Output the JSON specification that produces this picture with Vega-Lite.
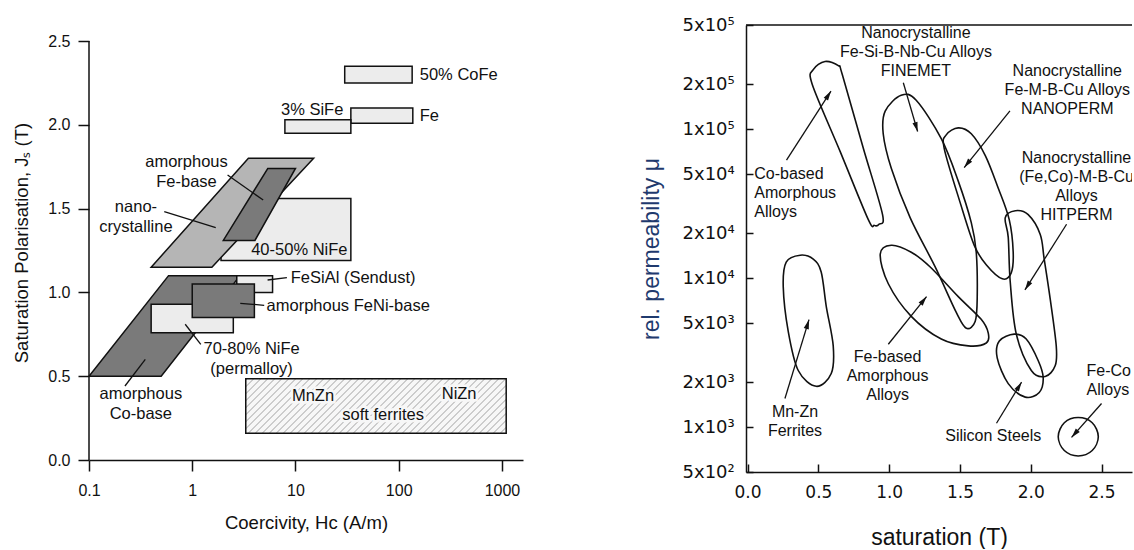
{
  "$schema": "https://vega.github.io/schema/vega-lite/v6.json",
  "background": "white",
  "padding": {"left": 12, "top": 16, "right": 0, "bottom": 0},
  "autosize": {"type": "pad"},
  "spacing": 117,
  "config": {
    "font": "Liberation Sans",
    "view": {"stroke": null},
    "axis": {"grid": false, "domainColor": "#111", "tickColor": "#111", "labelColor": "#111", "titleColor": "#111", "labelFont": "Liberation Sans", "titleFont": "Liberation Sans", "titleFontWeight": "normal", "labelFlush": false, "labelOverlap": false, "domainWidth": 1.5, "tickWidth": 1.5}
  },
  "datasets": {
    "yline": [{"x": 0.1, "y": 0, "y2": 2.5}],
    "rects": [
      {"n": "NiFe4050", "grp": "A", "x1": 1.9, "x2": 34.4, "y1": 1.19, "y2": 1.56, "tone": "light"},
      {"n": "CoFe", "grp": "A", "x1": 30, "x2": 135, "y1": 2.25, "y2": 2.35, "tone": "light"},
      {"n": "Fe", "grp": "A", "x1": 34.4, "x2": 137, "y1": 2.01, "y2": 2.10, "tone": "light"},
      {"n": "SiFe", "grp": "A", "x1": 7.9, "x2": 34.4, "y1": 1.95, "y2": 2.03, "tone": "light"},
      {"n": "ferrite", "grp": "H", "x1": 3.3, "x2": 1100, "y1": 0.16, "y2": 0.485, "tone": "hatch"},
      {"n": "FeSiAl", "grp": "B", "x1": 2.7, "x2": 6.0, "y1": 1.0, "y2": 1.1, "tone": "light"},
      {"n": "NiFe7080", "grp": "B", "x1": 0.4, "x2": 2.5, "y1": 0.76, "y2": 0.93, "tone": "light"},
      {"n": "FeNiAm", "grp": "B", "x1": 1.0, "x2": 4.0, "y1": 0.85, "y2": 1.05, "tone": "dark"}
    ],
    "para": [
      {"n": "nano", "y": 1.15, "xl": 0.4, "xr": 1.55, "tone": "medium"},
      {"n": "nano", "y": 1.8, "xl": 3.5, "xr": 15, "tone": "medium"},
      {"n": "feam", "y": 1.31, "xl": 2.0, "xr": 4.05, "tone": "dark"},
      {"n": "feam", "y": 1.74, "xl": 5.4, "xr": 10, "tone": "dark"},
      {"n": "coam", "y": 0.5, "xl": 0.1, "xr": 0.5, "tone": "dark"},
      {"n": "coam", "y": 1.1, "xl": 0.59, "xr": 2.9, "tone": "dark"}
    ],
    "lead": [
      {"x": 2.2, "y": 1.70, "x2": 4.87, "y2": 1.551},
      {"x": 0.536, "y": 1.482, "x2": 1.69, "y2": 1.386},
      {"x": 5.37, "y": 1.074, "x2": 8.26, "y2": 1.088},
      {"x": 2.92, "y": 0.935, "x2": 4.98, "y2": 0.923},
      {"x": 0.855, "y": 0.810, "x2": 1.21, "y2": 0.690},
      {"x": 0.223, "y": 0.4415, "x2": 0.351, "y2": 0.601}
    ],
    "llab": [
      {"t": "3% SiFe", "x": 14.5, "y": 2.09, "al": "c"},
      {"t": "amorphous\nFe-base", "x": 0.88, "y": 1.78, "al": "c"},
      {"t": "nano-\ncrystalline", "x": 0.285, "y": 1.511, "al": "c"},
      {"t": "40-50% NiFe", "x": 10.9, "y": 1.251, "al": "c"},
      {"t": "70-80% NiFe\n(permalloy)", "x": 3.76, "y": 0.660, "al": "c"},
      {"t": "amorphous\nCo-base", "x": 0.318, "y": 0.392, "al": "c"},
      {"t": "MnZn", "x": 14.8, "y": 0.382, "al": "f"},
      {"t": "NiZn", "x": 385, "y": 0.392, "al": "f"},
      {"t": "soft ferrites", "x": 70.6, "y": 0.267, "al": "f"},
      {"t": "50% CoFe", "x": 160, "y": 2.30, "al": "l"},
      {"t": "Fe", "x": 160, "y": 2.05, "al": "l"},
      {"t": "FeSiAl (Sendust)", "x": 9.0, "y": 1.084, "al": "l"},
      {"t": "amorphous FeNi-base", "x": 5.25, "y": 0.919, "al": "l"}
    ],
    "frame": [{"x": -0.011, "x2": 2.715, "y": 500000}],
    "loops": [
      {"s": "co", "i": 1, "x": 0.547, "y": 284600}, {"s": "co", "i": 2, "x": 0.641, "y": 266700}, {"s": "co", "i": 3, "x": 0.669, "y": 232300}, {"s": "co", "i": 4, "x": 0.817, "y": 74800}, {"s": "co", "i": 5, "x": 0.953, "y": 26800}, {"s": "co", "i": 6, "x": 0.928, "y": 23000}, {"s": "co", "i": 7, "x": 0.895, "y": 22600}, {"s": "co", "i": 8, "x": 0.852, "y": 24800}, {"s": "co", "i": 9, "x": 0.655, "y": 70400}, {"s": "co", "i": 10, "x": 0.457, "y": 199500}, {"s": "co", "i": 11, "x": 0.464, "y": 250600},
      {"s": "fm", "i": 1, "x": 1.085, "y": 168700}, {"s": "fm", "i": 2, "x": 1.191, "y": 156300}, {"s": "fm", "i": 3, "x": 1.368, "y": 86300}, {"s": "fm", "i": 4, "x": 1.488, "y": 44800}, {"s": "fm", "i": 5, "x": 1.580, "y": 23600}, {"s": "fm", "i": 6, "x": 1.615, "y": 14930}, {"s": "fm", "i": 7, "x": 1.622, "y": 7520}, {"s": "fm", "i": 8, "x": 1.608, "y": 5140}, {"s": "fm", "i": 9, "x": 1.545, "y": 4610}, {"s": "fm", "i": 10, "x": 1.474, "y": 5890}, {"s": "fm", "i": 11, "x": 1.325, "y": 11890}, {"s": "fm", "i": 12, "x": 1.148, "y": 25470}, {"s": "fm", "i": 13, "x": 1.015, "y": 54600}, {"s": "fm", "i": 14, "x": 0.958, "y": 93100}, {"s": "fm", "i": 15, "x": 0.972, "y": 132100},
      {"s": "np", "i": 1, "x": 1.488, "y": 102000}, {"s": "np", "i": 2, "x": 1.580, "y": 93100}, {"s": "np", "i": 3, "x": 1.679, "y": 66500}, {"s": "np", "i": 4, "x": 1.770, "y": 40300}, {"s": "np", "i": 5, "x": 1.848, "y": 24700}, {"s": "np", "i": 6, "x": 1.876, "y": 14930}, {"s": "np", "i": 7, "x": 1.862, "y": 10840}, {"s": "np", "i": 8, "x": 1.799, "y": 9890}, {"s": "np", "i": 9, "x": 1.687, "y": 12240}, {"s": "np", "i": 10, "x": 1.601, "y": 16600}, {"s": "np", "i": 11, "x": 1.502, "y": 32000}, {"s": "np", "i": 12, "x": 1.389, "y": 74100}, {"s": "np", "i": 13, "x": 1.403, "y": 91600},
      {"s": "hp", "i": 1, "x": 1.891, "y": 28340}, {"s": "hp", "i": 2, "x": 1.982, "y": 26660}, {"s": "hp", "i": 3, "x": 2.067, "y": 19650}, {"s": "hp", "i": 4, "x": 2.095, "y": 13420}, {"s": "hp", "i": 5, "x": 2.138, "y": 7180}, {"s": "hp", "i": 6, "x": 2.180, "y": 3510}, {"s": "hp", "i": 7, "x": 2.173, "y": 2590}, {"s": "hp", "i": 8, "x": 2.102, "y": 2190}, {"s": "hp", "i": 9, "x": 2.004, "y": 2400}, {"s": "hp", "i": 10, "x": 1.898, "y": 4210}, {"s": "hp", "i": 11, "x": 1.855, "y": 9450}, {"s": "hp", "i": 12, "x": 1.841, "y": 18780}, {"s": "hp", "i": 13, "x": 1.820, "y": 25470},
      {"s": "fb", "i": 1, "x": 0.937, "y": 14490}, {"s": "fb", "i": 2, "x": 1.015, "y": 16630}, {"s": "fb", "i": 3, "x": 1.156, "y": 14930}, {"s": "fb", "i": 4, "x": 1.290, "y": 11880}, {"s": "fb", "i": 5, "x": 1.488, "y": 7520}, {"s": "fb", "i": 6, "x": 1.650, "y": 5290}, {"s": "fb", "i": 7, "x": 1.700, "y": 4280}, {"s": "fb", "i": 8, "x": 1.686, "y": 3670}, {"s": "fb", "i": 9, "x": 1.559, "y": 3510}, {"s": "fb", "i": 10, "x": 1.368, "y": 3900}, {"s": "fb", "i": 11, "x": 1.156, "y": 5540}, {"s": "fb", "i": 12, "x": 0.994, "y": 9170},
      {"s": "si", "i": 1, "x": 1.883, "y": 4210}, {"s": "si", "i": 2, "x": 1.968, "y": 3900}, {"s": "si", "i": 3, "x": 2.053, "y": 2790}, {"s": "si", "i": 4, "x": 2.088, "y": 2150}, {"s": "si", "i": 5, "x": 2.060, "y": 1710}, {"s": "si", "i": 6, "x": 1.961, "y": 1590}, {"s": "si", "i": 7, "x": 1.841, "y": 1960}, {"s": "si", "i": 8, "x": 1.763, "y": 2920}, {"s": "si", "i": 9, "x": 1.778, "y": 3790},
      {"s": "fc", "i": 1, "x": 2.335, "y": 1160}, {"s": "fc", "i": 2, "x": 2.434, "y": 1070}, {"s": "fc", "i": 3, "x": 2.477, "y": 863}, {"s": "fc", "i": 4, "x": 2.434, "y": 697}, {"s": "fc", "i": 5, "x": 2.335, "y": 641}, {"s": "fc", "i": 6, "x": 2.237, "y": 697}, {"s": "fc", "i": 7, "x": 2.194, "y": 863}, {"s": "fc", "i": 8, "x": 2.237, "y": 1070},
      {"s": "mz", "i": 1, "x": 0.372, "y": 14260}, {"s": "mz", "i": 2, "x": 0.464, "y": 13420}, {"s": "mz", "i": 3, "x": 0.520, "y": 11010}, {"s": "mz", "i": 4, "x": 0.556, "y": 6450}, {"s": "mz", "i": 5, "x": 0.605, "y": 3510}, {"s": "mz", "i": 6, "x": 0.591, "y": 2290}, {"s": "mz", "i": 7, "x": 0.485, "y": 1880}, {"s": "mz", "i": 8, "x": 0.358, "y": 2400}, {"s": "mz", "i": 9, "x": 0.287, "y": 4410}, {"s": "mz", "i": 10, "x": 0.252, "y": 8750}, {"s": "mz", "i": 11, "x": 0.273, "y": 12820}
    ],
    "arrows": [
      {"tx": 0.275, "ty": 61950, "hx": 0.589, "hy": 180200, "dir": 32.4},
      {"tx": 1.100, "ty": 204800, "hx": 1.201, "hy": 96400, "dir": 163.9},
      {"tx": 1.853, "ty": 132800, "hx": 1.530, "hy": 55200, "dir": 218.4},
      {"tx": 2.253, "ty": 23000, "hx": 1.959, "hy": 8330, "dir": 212},
      {"tx": 0.994, "ty": 3600, "hx": 1.264, "hy": 7520, "dir": 38.4},
      {"tx": 0.264, "ty": 1556, "hx": 0.434, "hy": 5270, "dir": 16.7},
      {"tx": 1.758, "ty": 1062, "hx": 1.935, "hy": 2005, "dir": 31},
      {"tx": 2.500, "ty": 1442, "hx": 2.288, "hy": 853, "dir": 221.1}
    ],
    "rlab": [
      {"t": "Nanocrystalline\nFe-Si-B-Nb-Cu Alloys\nFINEMET", "x": 1.189, "y": 438600, "al": "c"},
      {"t": "Nanocrystalline\nFe-M-B-Cu Alloys\nNANOPERM", "x": 2.258, "y": 247000, "al": "c"},
      {"t": "Nanocrystalline\n(Fe,Co)-M-B-Cu\nAlloys\nHITPERM", "x": 2.323, "y": 63600, "al": "c"},
      {"t": "Fe-based\nAmorphous\nAlloys", "x": 0.989, "y": 2935, "al": "c"},
      {"t": "Mn-Zn\nFerrites", "x": 0.335, "y": 1268, "al": "c"},
      {"t": "Silicon Steels", "x": 1.735, "y": 866, "al": "c"},
      {"t": "Co-based\nAmorphous\nAlloys", "x": 0.047, "y": 50000, "al": "l"},
      {"t": "Fe-Co\nAlloys", "x": 2.394, "y": 2395, "al": "l"}
    ]
  },
  "hconcat": [
    {
      "width": 434,
      "height": 435,
      "layer": [
        {
          "data": {"name": "yline"},
          "mark": {"type": "rule", "color": "#111", "strokeWidth": 1.5},
          "encoding": {
            "x": {"field": "x", "type": "quantitative", "scale": {"type": "log", "domain": [0.1, 1600], "nice": false},
                  "axis": {"values": [0.1, 1, 10, 100, 1000], "format": "~g", "tickSize": 11, "labelPadding": 11, "labelFontSize": 16, "title": "Coercivity, Hc (A/m)", "titleFontSize": 18.5, "titlePadding": 15}},
            "y": {"field": "y", "type": "quantitative", "scale": {"domain": [0, 2.5955], "nice": false, "zero": false},
                  "axis": {"values": [0, 0.5, 1, 1.5, 2, 2.5], "format": ".1f", "domain": false, "tickSize": 11, "labelPadding": 8, "labelFontSize": 16, "title": "Saturation Polarisation, J\u209b (T)", "titleFontSize": 18.5, "titlePadding": 16}},
            "y2": {"field": "y2"}
          }
        },
        {
          "data": {"name": "rects"},
          "transform": [{"filter": "datum.grp == 'A'"}],
          "mark": {"type": "rect", "stroke": "#111", "strokeWidth": 1.5},
          "encoding": {
            "x": {"field": "x1", "type": "quantitative"}, "x2": {"field": "x2"},
            "y": {"field": "y1", "type": "quantitative"}, "y2": {"field": "y2"},
            "fill": {"field": "tone", "type": "nominal", "scale": {"domain": ["light", "medium", "dark"], "range": ["#ececec", "#b5b5b5", "#7a7a7a"]}, "legend": null}
          }
        },
        {
          "data": {"name": "rects"},
          "transform": [{"filter": "datum.grp == 'H'"}],
          "mark": {"type": "rect", "stroke": "#111", "strokeWidth": 1.5,
            "fill": {"gradient": "linear", "x1": 0, "y1": 0, "x2": 1.1586, "y2": 0.2425, "stops": [
              {"offset": 0, "color": "#cccccc"}, {"offset": 0.0075, "color": "#cccccc"}, {"offset": 0.0075, "color": "#f7f7f7"}, {"offset": 0.0222, "color": "#f7f7f7"},
              {"offset": 0.0222, "color": "#cccccc"}, {"offset": 0.0297, "color": "#cccccc"}, {"offset": 0.0297, "color": "#f7f7f7"}, {"offset": 0.0444, "color": "#f7f7f7"},
              {"offset": 0.0444, "color": "#cccccc"}, {"offset": 0.0519, "color": "#cccccc"}, {"offset": 0.0519, "color": "#f7f7f7"}, {"offset": 0.0667, "color": "#f7f7f7"},
              {"offset": 0.0667, "color": "#cccccc"}, {"offset": 0.0742, "color": "#cccccc"}, {"offset": 0.0742, "color": "#f7f7f7"}, {"offset": 0.0889, "color": "#f7f7f7"},
              {"offset": 0.0889, "color": "#cccccc"}, {"offset": 0.0964, "color": "#cccccc"}, {"offset": 0.0964, "color": "#f7f7f7"}, {"offset": 0.1111, "color": "#f7f7f7"},
              {"offset": 0.1111, "color": "#cccccc"}, {"offset": 0.1186, "color": "#cccccc"}, {"offset": 0.1186, "color": "#f7f7f7"}, {"offset": 0.1333, "color": "#f7f7f7"},
              {"offset": 0.1333, "color": "#cccccc"}, {"offset": 0.1408, "color": "#cccccc"}, {"offset": 0.1408, "color": "#f7f7f7"}, {"offset": 0.1556, "color": "#f7f7f7"},
              {"offset": 0.1556, "color": "#cccccc"}, {"offset": 0.1631, "color": "#cccccc"}, {"offset": 0.1631, "color": "#f7f7f7"}, {"offset": 0.1778, "color": "#f7f7f7"},
              {"offset": 0.1778, "color": "#cccccc"}, {"offset": 0.1853, "color": "#cccccc"}, {"offset": 0.1853, "color": "#f7f7f7"}, {"offset": 0.2, "color": "#f7f7f7"},
              {"offset": 0.2, "color": "#cccccc"}, {"offset": 0.2075, "color": "#cccccc"}, {"offset": 0.2075, "color": "#f7f7f7"}, {"offset": 0.2222, "color": "#f7f7f7"},
              {"offset": 0.2222, "color": "#cccccc"}, {"offset": 0.2297, "color": "#cccccc"}, {"offset": 0.2297, "color": "#f7f7f7"}, {"offset": 0.2444, "color": "#f7f7f7"},
              {"offset": 0.2444, "color": "#cccccc"}, {"offset": 0.2519, "color": "#cccccc"}, {"offset": 0.2519, "color": "#f7f7f7"}, {"offset": 0.2667, "color": "#f7f7f7"},
              {"offset": 0.2667, "color": "#cccccc"}, {"offset": 0.2742, "color": "#cccccc"}, {"offset": 0.2742, "color": "#f7f7f7"}, {"offset": 0.2889, "color": "#f7f7f7"},
              {"offset": 0.2889, "color": "#cccccc"}, {"offset": 0.2964, "color": "#cccccc"}, {"offset": 0.2964, "color": "#f7f7f7"}, {"offset": 0.3111, "color": "#f7f7f7"},
              {"offset": 0.3111, "color": "#cccccc"}, {"offset": 0.3186, "color": "#cccccc"}, {"offset": 0.3186, "color": "#f7f7f7"}, {"offset": 0.3333, "color": "#f7f7f7"},
              {"offset": 0.3333, "color": "#cccccc"}, {"offset": 0.3408, "color": "#cccccc"}, {"offset": 0.3408, "color": "#f7f7f7"}, {"offset": 0.3556, "color": "#f7f7f7"},
              {"offset": 0.3556, "color": "#cccccc"}, {"offset": 0.3631, "color": "#cccccc"}, {"offset": 0.3631, "color": "#f7f7f7"}, {"offset": 0.3778, "color": "#f7f7f7"},
              {"offset": 0.3778, "color": "#cccccc"}, {"offset": 0.3853, "color": "#cccccc"}, {"offset": 0.3853, "color": "#f7f7f7"}, {"offset": 0.4, "color": "#f7f7f7"},
              {"offset": 0.4, "color": "#cccccc"}, {"offset": 0.4075, "color": "#cccccc"}, {"offset": 0.4075, "color": "#f7f7f7"}, {"offset": 0.4222, "color": "#f7f7f7"},
              {"offset": 0.4222, "color": "#cccccc"}, {"offset": 0.4297, "color": "#cccccc"}, {"offset": 0.4297, "color": "#f7f7f7"}, {"offset": 0.4444, "color": "#f7f7f7"},
              {"offset": 0.4444, "color": "#cccccc"}, {"offset": 0.4519, "color": "#cccccc"}, {"offset": 0.4519, "color": "#f7f7f7"}, {"offset": 0.4667, "color": "#f7f7f7"},
              {"offset": 0.4667, "color": "#cccccc"}, {"offset": 0.4742, "color": "#cccccc"}, {"offset": 0.4742, "color": "#f7f7f7"}, {"offset": 0.4889, "color": "#f7f7f7"},
              {"offset": 0.4889, "color": "#cccccc"}, {"offset": 0.4964, "color": "#cccccc"}, {"offset": 0.4964, "color": "#f7f7f7"}, {"offset": 0.5111, "color": "#f7f7f7"},
              {"offset": 0.5111, "color": "#cccccc"}, {"offset": 0.5186, "color": "#cccccc"}, {"offset": 0.5186, "color": "#f7f7f7"}, {"offset": 0.5333, "color": "#f7f7f7"},
              {"offset": 0.5333, "color": "#cccccc"}, {"offset": 0.5408, "color": "#cccccc"}, {"offset": 0.5408, "color": "#f7f7f7"}, {"offset": 0.5556, "color": "#f7f7f7"},
              {"offset": 0.5556, "color": "#cccccc"}, {"offset": 0.5631, "color": "#cccccc"}, {"offset": 0.5631, "color": "#f7f7f7"}, {"offset": 0.5778, "color": "#f7f7f7"},
              {"offset": 0.5778, "color": "#cccccc"}, {"offset": 0.5853, "color": "#cccccc"}, {"offset": 0.5853, "color": "#f7f7f7"}, {"offset": 0.6, "color": "#f7f7f7"},
              {"offset": 0.6, "color": "#cccccc"}, {"offset": 0.6075, "color": "#cccccc"}, {"offset": 0.6075, "color": "#f7f7f7"}, {"offset": 0.6222, "color": "#f7f7f7"},
              {"offset": 0.6222, "color": "#cccccc"}, {"offset": 0.6297, "color": "#cccccc"}, {"offset": 0.6297, "color": "#f7f7f7"}, {"offset": 0.6444, "color": "#f7f7f7"},
              {"offset": 0.6444, "color": "#cccccc"}, {"offset": 0.6519, "color": "#cccccc"}, {"offset": 0.6519, "color": "#f7f7f7"}, {"offset": 0.6667, "color": "#f7f7f7"},
              {"offset": 0.6667, "color": "#cccccc"}, {"offset": 0.6742, "color": "#cccccc"}, {"offset": 0.6742, "color": "#f7f7f7"}, {"offset": 0.6889, "color": "#f7f7f7"},
              {"offset": 0.6889, "color": "#cccccc"}, {"offset": 0.6964, "color": "#cccccc"}, {"offset": 0.6964, "color": "#f7f7f7"}, {"offset": 0.7111, "color": "#f7f7f7"},
              {"offset": 0.7111, "color": "#cccccc"}, {"offset": 0.7186, "color": "#cccccc"}, {"offset": 0.7186, "color": "#f7f7f7"}, {"offset": 0.7333, "color": "#f7f7f7"},
              {"offset": 0.7333, "color": "#cccccc"}, {"offset": 0.7408, "color": "#cccccc"}, {"offset": 0.7408, "color": "#f7f7f7"}, {"offset": 0.7556, "color": "#f7f7f7"},
              {"offset": 0.7556, "color": "#cccccc"}, {"offset": 0.7631, "color": "#cccccc"}, {"offset": 0.7631, "color": "#f7f7f7"}, {"offset": 0.7778, "color": "#f7f7f7"},
              {"offset": 0.7778, "color": "#cccccc"}, {"offset": 0.7853, "color": "#cccccc"}, {"offset": 0.7853, "color": "#f7f7f7"}, {"offset": 0.8, "color": "#f7f7f7"},
              {"offset": 0.8, "color": "#cccccc"}, {"offset": 0.8075, "color": "#cccccc"}, {"offset": 0.8075, "color": "#f7f7f7"}, {"offset": 0.8222, "color": "#f7f7f7"},
              {"offset": 0.8222, "color": "#cccccc"}, {"offset": 0.8297, "color": "#cccccc"}, {"offset": 0.8297, "color": "#f7f7f7"}, {"offset": 0.8444, "color": "#f7f7f7"},
              {"offset": 0.8444, "color": "#cccccc"}, {"offset": 0.8519, "color": "#cccccc"}, {"offset": 0.8519, "color": "#f7f7f7"}, {"offset": 0.8667, "color": "#f7f7f7"},
              {"offset": 0.8667, "color": "#cccccc"}, {"offset": 0.8742, "color": "#cccccc"}, {"offset": 0.8742, "color": "#f7f7f7"}, {"offset": 0.8889, "color": "#f7f7f7"},
              {"offset": 0.8889, "color": "#cccccc"}, {"offset": 0.8964, "color": "#cccccc"}, {"offset": 0.8964, "color": "#f7f7f7"}, {"offset": 0.9111, "color": "#f7f7f7"},
              {"offset": 0.9111, "color": "#cccccc"}, {"offset": 0.9186, "color": "#cccccc"}, {"offset": 0.9186, "color": "#f7f7f7"}, {"offset": 0.9333, "color": "#f7f7f7"},
              {"offset": 0.9333, "color": "#cccccc"}, {"offset": 0.9408, "color": "#cccccc"}, {"offset": 0.9408, "color": "#f7f7f7"}, {"offset": 0.9556, "color": "#f7f7f7"},
              {"offset": 0.9556, "color": "#cccccc"}, {"offset": 0.9631, "color": "#cccccc"}, {"offset": 0.9631, "color": "#f7f7f7"}, {"offset": 0.9778, "color": "#f7f7f7"},
              {"offset": 0.9778, "color": "#cccccc"}, {"offset": 0.9853, "color": "#cccccc"}, {"offset": 0.9853, "color": "#f7f7f7"}, {"offset": 1, "color": "#f7f7f7"}
            ]}},
          "encoding": {
            "x": {"field": "x1", "type": "quantitative"}, "x2": {"field": "x2"},
            "y": {"field": "y1", "type": "quantitative"}, "y2": {"field": "y2"}
          }
        },
        {
          "data": {"name": "para"},
          "transform": [{"filter": "datum.n == 'nano'"}],
          "mark": {"type": "area", "orient": "horizontal", "stroke": "#111", "strokeWidth": 1.5},
          "encoding": {
            "y": {"field": "y", "type": "quantitative"},
            "x": {"field": "xl", "type": "quantitative"}, "x2": {"field": "xr"},
            "fill": {"field": "tone", "type": "nominal", "legend": null}
          }
        },
        {
          "data": {"name": "para"},
          "transform": [{"filter": "datum.n == 'feam'"}],
          "mark": {"type": "area", "orient": "horizontal", "stroke": "#111", "strokeWidth": 1.5},
          "encoding": {
            "y": {"field": "y", "type": "quantitative"},
            "x": {"field": "xl", "type": "quantitative"}, "x2": {"field": "xr"},
            "fill": {"field": "tone", "type": "nominal", "legend": null}
          }
        },
        {
          "data": {"name": "para"},
          "transform": [{"filter": "datum.n == 'coam'"}],
          "mark": {"type": "area", "orient": "horizontal", "stroke": "#111", "strokeWidth": 1.5},
          "encoding": {
            "y": {"field": "y", "type": "quantitative"},
            "x": {"field": "xl", "type": "quantitative"}, "x2": {"field": "xr"},
            "fill": {"field": "tone", "type": "nominal", "legend": null}
          }
        },
        {
          "data": {"name": "rects"},
          "transform": [{"filter": "datum.grp == 'B'"}],
          "mark": {"type": "rect", "stroke": "#111", "strokeWidth": 1.5},
          "encoding": {
            "x": {"field": "x1", "type": "quantitative"}, "x2": {"field": "x2"},
            "y": {"field": "y1", "type": "quantitative"}, "y2": {"field": "y2"},
            "fill": {"field": "tone", "type": "nominal", "legend": null}
          }
        },
        {
          "data": {"name": "lead"},
          "mark": {"type": "rule", "color": "#111", "strokeWidth": 1.3},
          "encoding": {
            "x": {"field": "x", "type": "quantitative"}, "x2": {"field": "x2"},
            "y": {"field": "y", "type": "quantitative"}, "y2": {"field": "y2"}
          }
        },
        {
          "data": {"name": "llab"},
          "transform": [{"filter": "datum.al == 'f'"}],
          "mark": {"type": "text", "align": "center", "baseline": "middle", "fontSize": 16.5, "color": "#f7f7f7", "stroke": "#f7f7f7", "strokeWidth": 5},
          "encoding": {
            "x": {"field": "x", "type": "quantitative"},
            "y": {"field": "y", "type": "quantitative"},
            "text": {"field": "t"}
          }
        },
        {
          "data": {"name": "llab"},
          "transform": [{"filter": "datum.al == 'c' || datum.al == 'f'"}],
          "mark": {"type": "text", "align": "center", "baseline": "middle", "fontSize": 16.5, "lineHeight": 20, "lineBreak": "\n", "color": "#111"},
          "encoding": {
            "x": {"field": "x", "type": "quantitative"},
            "y": {"field": "y", "type": "quantitative"},
            "text": {"field": "t"}
          }
        },
        {
          "data": {"name": "llab"},
          "transform": [{"filter": "datum.al == 'l'"}],
          "mark": {"type": "text", "align": "left", "baseline": "middle", "fontSize": 16.5, "lineHeight": 20, "lineBreak": "\n", "color": "#111"},
          "encoding": {
            "x": {"field": "x", "type": "quantitative"},
            "y": {"field": "y", "type": "quantitative"},
            "text": {"field": "t"}
          }
        }
      ]
    },
    {
      "width": 386,
      "height": 447,
      "layer": [
        {
          "data": {"name": "loops"},
          "mark": {"type": "line", "interpolate": "cardinal-closed", "color": "#111", "strokeWidth": 1.6, "clip": true},
          "encoding": {
            "x": {"field": "x", "type": "quantitative", "scale": {"domain": [-0.011, 2.715], "nice": false, "zero": false},
                  "axis": {"values": [0, 0.5, 1, 1.5, 2, 2.5], "format": ".1f", "tickSize": -8, "labelPadding": 20, "labelFont": "DejaVu Sans", "labelFontSize": 17, "title": "saturation (T)", "titleFontSize": 23, "titlePadding": 26}},
            "y": {"field": "y", "type": "quantitative", "scale": {"type": "log", "domain": [500, 500000], "nice": false},
                  "axis": {"values": [500, 1000, 2000, 5000, 10000, 20000, 50000, 100000, 200000, 500000], "labelExpr": "round(datum.value/pow(10, floor(log(datum.value)/LN10+0.001))) + 'x10' + ['\u2070','\u00b9','\u00b2','\u00b3','\u2074','\u2075'][floor(log(datum.value)/LN10+0.001)]", "tickSize": -7, "labelPadding": 18.7, "labelFont": "DejaVu Sans", "labelFontSize": 18, "title": "rel. permeability \u03bc", "titleFontSize": 23, "titleColor": "#1f3a6e", "titlePadding": 19}},
            "detail": {"field": "s"},
            "order": {"field": "i", "type": "quantitative"}
          }
        },
        {
          "data": {"name": "frame"},
          "mark": {"type": "rule", "color": "#111", "strokeWidth": 1.5},
          "encoding": {
            "x": {"field": "x", "type": "quantitative"}, "x2": {"field": "x2"},
            "y": {"field": "y", "type": "quantitative"}
          }
        },
        {
          "data": {"name": "arrows"},
          "mark": {"type": "rule", "color": "#111", "strokeWidth": 1.3},
          "encoding": {
            "x": {"field": "tx", "type": "quantitative"}, "x2": {"field": "hx"},
            "y": {"field": "ty", "type": "quantitative"}, "y2": {"field": "hy"}
          }
        },
        {
          "data": {"name": "arrows"},
          "mark": {"type": "point", "shape": "M0,0L0.55,2L-0.55,2Z", "filled": true, "size": 90, "color": "#111", "opacity": 1},
          "encoding": {
            "x": {"field": "hx", "type": "quantitative"},
            "y": {"field": "hy", "type": "quantitative"},
            "angle": {"field": "dir", "type": "quantitative", "scale": null}
          }
        },
        {
          "data": {"name": "rlab"},
          "transform": [{"filter": "datum.al == 'c'"}],
          "mark": {"type": "text", "align": "center", "baseline": "middle", "fontSize": 16, "lineHeight": 19, "lineBreak": "\n", "color": "#111", "clip": true},
          "encoding": {
            "x": {"field": "x", "type": "quantitative"},
            "y": {"field": "y", "type": "quantitative"},
            "text": {"field": "t"}
          }
        },
        {
          "data": {"name": "rlab"},
          "transform": [{"filter": "datum.al == 'l'"}],
          "mark": {"type": "text", "align": "left", "baseline": "middle", "fontSize": 16, "lineHeight": 19, "lineBreak": "\n", "color": "#111", "clip": true},
          "encoding": {
            "x": {"field": "x", "type": "quantitative"},
            "y": {"field": "y", "type": "quantitative"},
            "text": {"field": "t"}
          }
        }
      ]
    }
  ]
}
